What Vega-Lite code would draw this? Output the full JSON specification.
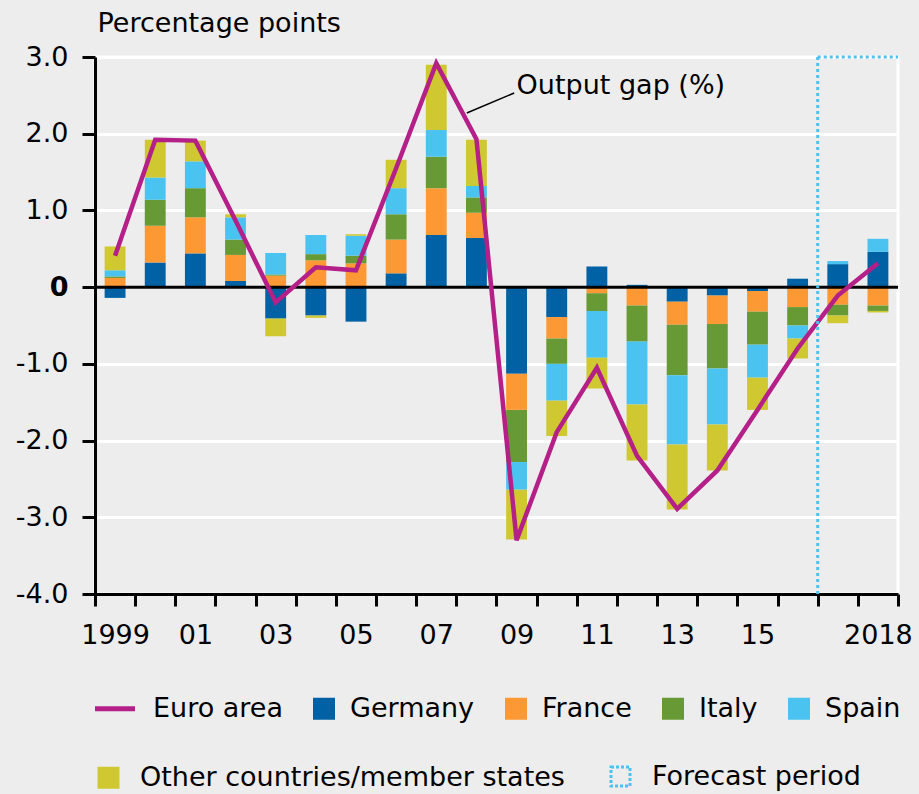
{
  "$schema": "https://vega.github.io/schema/vega-lite/v6.json",
  "width": 803,
  "height": 537,
  "autosize": {"type": "none"},
  "padding": {"left": 95, "top": 57, "right": 21, "bottom": 200},
  "background": "#ededed",
  "config": {
    "font": "DejaVu Sans",
    "view": {"stroke": "white", "strokeWidth": 3, "fill": "#ededed"}
  },
  "datasets": {
    "bars": [
      {"year": 1999, "country": "Germany", "value": -0.14},
      {"year": 1999, "country": "France", "value": 0.12},
      {"year": 1999, "country": "Italy", "value": 0.02},
      {"year": 1999, "country": "Spain", "value": 0.08},
      {"year": 1999, "country": "Other countries/member states", "value": 0.31},
      {"year": 2000, "country": "Germany", "value": 0.32},
      {"year": 2000, "country": "France", "value": 0.48},
      {"year": 2000, "country": "Italy", "value": 0.34},
      {"year": 2000, "country": "Spain", "value": 0.29},
      {"year": 2000, "country": "Other countries/member states", "value": 0.49},
      {"year": 2001, "country": "Germany", "value": 0.44},
      {"year": 2001, "country": "France", "value": 0.47},
      {"year": 2001, "country": "Italy", "value": 0.38},
      {"year": 2001, "country": "Spain", "value": 0.35},
      {"year": 2001, "country": "Other countries/member states", "value": 0.27},
      {"year": 2002, "country": "Germany", "value": 0.08},
      {"year": 2002, "country": "France", "value": 0.34},
      {"year": 2002, "country": "Italy", "value": 0.2},
      {"year": 2002, "country": "Spain", "value": 0.29},
      {"year": 2002, "country": "Other countries/member states", "value": 0.04},
      {"year": 2003, "country": "Germany", "value": -0.41},
      {"year": 2003, "country": "France", "value": 0.15},
      {"year": 2003, "country": "Italy", "value": 0.015},
      {"year": 2003, "country": "Spain", "value": 0.28},
      {"year": 2003, "country": "Other countries/member states", "value": -0.23},
      {"year": 2004, "country": "Germany", "value": -0.37},
      {"year": 2004, "country": "France", "value": 0.35},
      {"year": 2004, "country": "Italy", "value": 0.08},
      {"year": 2004, "country": "Spain", "value": 0.25},
      {"year": 2004, "country": "Other countries/member states", "value": -0.03},
      {"year": 2005, "country": "Germany", "value": -0.45},
      {"year": 2005, "country": "France", "value": 0.31},
      {"year": 2005, "country": "Italy", "value": 0.1},
      {"year": 2005, "country": "Spain", "value": 0.26},
      {"year": 2005, "country": "Other countries/member states", "value": 0.02},
      {"year": 2006, "country": "Germany", "value": 0.18},
      {"year": 2006, "country": "France", "value": 0.44},
      {"year": 2006, "country": "Italy", "value": 0.33},
      {"year": 2006, "country": "Spain", "value": 0.34},
      {"year": 2006, "country": "Other countries/member states", "value": 0.37},
      {"year": 2007, "country": "Germany", "value": 0.68},
      {"year": 2007, "country": "France", "value": 0.61},
      {"year": 2007, "country": "Italy", "value": 0.41},
      {"year": 2007, "country": "Spain", "value": 0.35},
      {"year": 2007, "country": "Other countries/member states", "value": 0.85},
      {"year": 2008, "country": "Germany", "value": 0.64},
      {"year": 2008, "country": "France", "value": 0.33},
      {"year": 2008, "country": "Italy", "value": 0.2},
      {"year": 2008, "country": "Spain", "value": 0.15},
      {"year": 2008, "country": "Other countries/member states", "value": 0.6},
      {"year": 2009, "country": "Germany", "value": -1.13},
      {"year": 2009, "country": "France", "value": -0.47},
      {"year": 2009, "country": "Italy", "value": -0.68},
      {"year": 2009, "country": "Spain", "value": -0.36},
      {"year": 2009, "country": "Other countries/member states", "value": -0.65},
      {"year": 2010, "country": "Germany", "value": -0.39},
      {"year": 2010, "country": "France", "value": -0.28},
      {"year": 2010, "country": "Italy", "value": -0.33},
      {"year": 2010, "country": "Spain", "value": -0.48},
      {"year": 2010, "country": "Other countries/member states", "value": -0.46},
      {"year": 2011, "country": "Germany", "value": 0.27},
      {"year": 2011, "country": "France", "value": -0.08},
      {"year": 2011, "country": "Italy", "value": -0.23},
      {"year": 2011, "country": "Spain", "value": -0.61},
      {"year": 2011, "country": "Other countries/member states", "value": -0.4},
      {"year": 2012, "country": "Germany", "value": 0.03},
      {"year": 2012, "country": "France", "value": -0.24},
      {"year": 2012, "country": "Italy", "value": -0.47},
      {"year": 2012, "country": "Spain", "value": -0.82},
      {"year": 2012, "country": "Other countries/member states", "value": -0.73},
      {"year": 2013, "country": "Germany", "value": -0.19},
      {"year": 2013, "country": "France", "value": -0.3},
      {"year": 2013, "country": "Italy", "value": -0.66},
      {"year": 2013, "country": "Spain", "value": -0.9},
      {"year": 2013, "country": "Other countries/member states", "value": -0.85},
      {"year": 2014, "country": "Germany", "value": -0.11},
      {"year": 2014, "country": "France", "value": -0.37},
      {"year": 2014, "country": "Italy", "value": -0.58},
      {"year": 2014, "country": "Spain", "value": -0.73},
      {"year": 2014, "country": "Other countries/member states", "value": -0.6},
      {"year": 2015, "country": "Germany", "value": -0.05},
      {"year": 2015, "country": "France", "value": -0.27},
      {"year": 2015, "country": "Italy", "value": -0.43},
      {"year": 2015, "country": "Spain", "value": -0.43},
      {"year": 2015, "country": "Other countries/member states", "value": -0.42},
      {"year": 2016, "country": "Germany", "value": 0.11},
      {"year": 2016, "country": "France", "value": -0.26},
      {"year": 2016, "country": "Italy", "value": -0.24},
      {"year": 2016, "country": "Spain", "value": -0.17},
      {"year": 2016, "country": "Other countries/member states", "value": -0.26},
      {"year": 2017, "country": "Germany", "value": 0.3},
      {"year": 2017, "country": "France", "value": -0.23},
      {"year": 2017, "country": "Italy", "value": -0.14},
      {"year": 2017, "country": "Spain", "value": 0.04},
      {"year": 2017, "country": "Other countries/member states", "value": -0.1},
      {"year": 2018, "country": "Germany", "value": 0.46},
      {"year": 2018, "country": "France", "value": -0.24},
      {"year": 2018, "country": "Italy", "value": -0.07},
      {"year": 2018, "country": "Spain", "value": 0.17},
      {"year": 2018, "country": "Other countries/member states", "value": -0.02}
    ],
    "gap": [
      {"year": 1999, "value": 0.41},
      {"year": 2000, "value": 1.92},
      {"year": 2001, "value": 1.91},
      {"year": 2002, "value": 0.87},
      {"year": 2003, "value": -0.2},
      {"year": 2004, "value": 0.26},
      {"year": 2005, "value": 0.22},
      {"year": 2006, "value": 1.55},
      {"year": 2007, "value": 2.92},
      {"year": 2008, "value": 1.93},
      {"year": 2009, "value": -3.3},
      {"year": 2010, "value": -1.89},
      {"year": 2011, "value": -1.05},
      {"year": 2012, "value": -2.2},
      {"year": 2013, "value": -2.89},
      {"year": 2014, "value": -2.39},
      {"year": 2015, "value": -1.6},
      {"year": 2016, "value": -0.8},
      {"year": 2017, "value": -0.11},
      {"year": 2018, "value": 0.31}
    ],
    "notes": [
      {"label": "Output gap (%)"}
    ]
  },
  "layer": [
    {
      "data": {"name": "bars"},
      "transform": [
        {"calculate": "indexof(['Germany','France','Italy','Spain','Other countries/member states'], datum.country)", "as": "rank"}
      ],
      "mark": {"type": "bar", "width": {"band": 0.52}},
      "encoding": {
        "x": {
          "field": "year",
          "type": "ordinal",
          "scale": {"paddingInner": 0, "paddingOuter": 0},
          "title": null,
          "axis": {
            "labelExpr": "datum.value === 1999 || datum.value === 2018 ? '' + datum.value : ((datum.value % 2 === 1 && datum.value < 2017) ? slice('' + datum.value, 2) : '')",
            "labelAngle": 0,
            "tickBand": "extent",
            "domainColor": "black",
            "domainWidth": 3,
            "tickColor": "black",
            "tickWidth": 3,
            "tickSize": 12,
            "labelFontSize": 27,
            "labelColor": "black",
            "labelBaseline": "alphabetic",
            "labelPadding": 37,
            "labelOverlap": false,
            "labelBound": false,
            "grid": false
          }
        },
        "y": {
          "field": "value",
          "type": "quantitative",
          "stack": "zero",
          "scale": {"domain": [-4, 3], "nice": false, "zero": false},
          "axis": {
            "values": [-4, -3, -2, -1, 0, 1, 2, 3],
            "labelExpr": "datum.value === 0 ? '0' : (datum.value < 0 ? '-' : '') + abs(datum.value) + '.0'",
            "labelFontWeight": {"condition": {"test": "datum.value === 0", "value": "bold"}, "value": "normal"},
            "title": "Percentage points",
            "titleAngle": 0,
            "titleAlign": "left",
            "titleBaseline": "alphabetic",
            "titleX": 2,
            "titleY": -26,
            "titleFontWeight": "normal",
            "titleFontSize": 27,
            "titleColor": "black",
            "grid": true,
            "gridColor": "white",
            "gridWidth": 3,
            "domainColor": "black",
            "domainWidth": 3,
            "tickColor": "black",
            "tickWidth": 3,
            "tickSize": 13,
            "labelFontSize": 27,
            "labelColor": "black",
            "labelPadding": 14
          }
        },
        "color": {
          "field": "country",
          "type": "nominal",
          "scale": {
            "domain": ["Euro area", "Germany", "France", "Italy", "Spain", "Other countries/member states"],
            "range": ["#b41f88", "#0062a4", "#fd9935", "#679a35", "#4bc3f1", "#cfc830"]
          },
          "legend": {
            "values": ["Euro area", "Germany", "France", "Italy", "Spain"],
            "orient": "none",
            "legendX": 0,
            "legendY": 638,
            "direction": "horizontal",
            "columns": 5,
            "title": null,
            "labelFontSize": 27,
            "labelColor": "black",
            "labelLimit": 700,
            "symbolSize": 484,
            "symbolType": "square",
            "symbolStrokeWidth": 0,
            "labelOffset": 15,
            "columnPadding": 30,
            "encode": {
              "symbols": {
                "update": {
                  "shape": {"signal": "datum.value === 'Euro area' ? 'stroke' : 'square'"},
                  "size": {"signal": "datum.value === 'Euro area' ? 1600 : 484"},
                  "x": {"signal": "datum.value === 'Euro area' ? 20 : 11"},
                  "fill": {"signal": "datum.value === 'Euro area' ? 'transparent' : scale('color', datum.value)"},
                  "stroke": {"signal": "datum.value === 'Euro area' ? '#b41f88' : 'transparent'"},
                  "strokeWidth": {"signal": "datum.value === 'Euro area' ? 5 : 0"}
                }
              },
              "labels": {
                "update": {
                  "x": {"signal": "datum.value === 'Euro area' ? 58 : 37"}
                }
              }
            }
          }
        },
        "order": {"field": "rank", "type": "quantitative"}
      }
    },
    {
      "data": {"values": [{}]},
      "mark": {"type": "rule", "color": "black", "strokeWidth": 3},
      "encoding": {"y": {"datum": 0}}
    },
    {
      "data": {"values": [{}]},
      "mark": {"type": "rule", "color": "black", "strokeWidth": 1.5},
      "encoding": {
        "x": {"datum": 2008, "type": "ordinal", "bandPosition": 0.26},
        "x2": {"datum": 2009, "bandPosition": 0.44},
        "y": {"datum": 2.27},
        "y2": {"datum": 2.53}
      }
    },
    {
      "data": {"name": "notes"},
      "mark": {"type": "text", "align": "left", "baseline": "alphabetic", "fontSize": 27, "color": "black"},
      "encoding": {
        "x": {"datum": 2009, "type": "ordinal"},
        "y": {"datum": 2.52},
        "text": {"field": "label"}
      }
    },
    {
      "data": {"name": "gap"},
      "mark": {"type": "line", "color": "#b41f88", "strokeWidth": 4.5, "strokeJoin": "miter"},
      "encoding": {
        "x": {"field": "year", "type": "ordinal"},
        "y": {"field": "value", "type": "quantitative"}
      }
    },
    {
      "data": {"values": [{}]},
      "mark": {"type": "rule", "strokeWidth": 3, "strokeDash": [3, 3]},
      "encoding": {
        "x": {"datum": 2017, "type": "ordinal", "bandPosition": 0},
        "y": {"datum": -4},
        "y2": {"datum": 3},
        "stroke": {
          "datum": "Forecast period",
          "type": "nominal",
          "scale": {
            "domain": ["Other countries/member states", "Forecast period"],
            "range": ["#cfc830", "#4bc3f1"]
          },
          "legend": {
            "orient": "none",
            "legendX": 0,
            "legendY": 706,
            "direction": "horizontal",
            "columns": 2,
            "title": null,
            "values": ["Other countries/member states", "Forecast period"],
            "labelFontSize": 27,
            "labelColor": "black",
            "labelLimit": 700,
            "symbolSize": 484,
            "symbolType": "square",
            "labelOffset": 18,
            "columnPadding": 40,
            "encode": {
              "symbols": {
                "update": {
                  "shape": {"value": "square"},
                  "size": {"signal": "datum.value === 'Forecast period' ? 361 : 484"},
                  "fill": {"signal": "datum.value === 'Forecast period' ? 'transparent' : '#cfc830'"},
                  "stroke": {"signal": "datum.value === 'Forecast period' ? '#4bc3f1' : 'transparent'"},
                  "strokeWidth": {"signal": "datum.value === 'Forecast period' ? 3 : 0"},
                  "strokeDash": {"signal": "datum.value === 'Forecast period' ? [3, 2] : [1, 0]"},
                  "opacity": {"value": 1}
                }
              }
            }
          }
        }
      }
    },
    {
      "data": {"values": [{}]},
      "mark": {"type": "rule", "color": "#4bc3f1", "strokeWidth": 3, "strokeDash": [3, 3]},
      "encoding": {
        "x": {"datum": 2017, "type": "ordinal", "bandPosition": 0},
        "x2": {"datum": 2018, "bandPosition": 1},
        "y": {"datum": 3}
      }
    }
  ]
}
